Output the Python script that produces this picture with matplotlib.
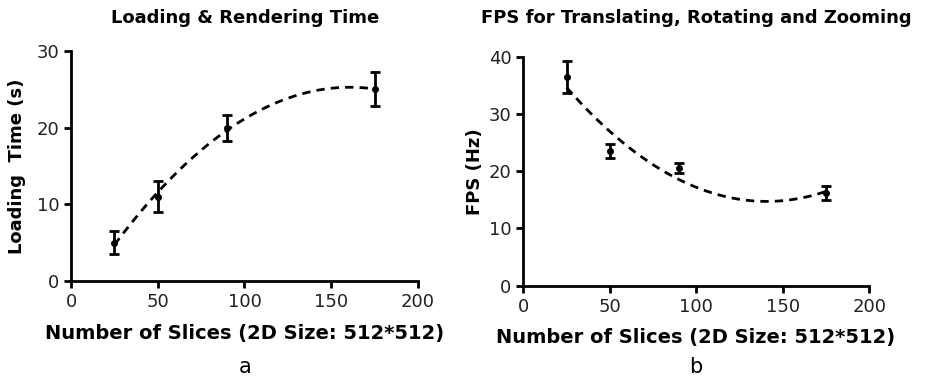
import numpy as np
import matplotlib
matplotlib.use("Agg")
import matplotlib.pyplot as plt

# données
slices = [25, 50, 90, 175]
load_time = [5.0, 11.0, 20.0, 25.0]
load_err = [1.5, 2.0, 1.7, 2.2]
fps = [36.4, 23.5, 20.5, 16.2]
fps_err = [2.8, 1.2, 0.9, 1.3]

plt.rcParams["font.family"] = ["DejaVu Sans"]

W, H = 927, 381
fig = plt.figure(figsize=(W / 100, H / 100), dpi=100)
ax1 = fig.add_axes([0.0766, 0.2625, 0.3743, 0.6037])
ax2 = fig.add_axes([0.5645, 0.2501, 0.3732, 0.6011])


def panel(ax, y, err, ymax, title, ylabel, letter, xc, ylab_x, xlab_y):
    x = np.array(slices, dtype=float)
    y = np.array(y)
    # ajustement polynomial d'ordre 2 (courbe pointillée)
    coef = np.polyfit(x, y, 2)
    xs = np.linspace(x.min(), x.max(), 200)
    ax.plot(xs, np.polyval(coef, xs), color="black", lw=2, ls=(0, (3, 2.2)))
    ax.errorbar(x, y, yerr=err, fmt="o", color="black", ms=4,
                elinewidth=2, capsize=3.5, capthick=2)

    ax.set_xlim(0, 200)
    ax.set_ylim(0, ymax)
    ax.set_xticks([0, 50, 100, 150, 200])
    ax.set_yticks(np.arange(0, ymax + 1, 10))
    for s in ["top", "right"]:
        ax.spines[s].set_visible(False)
    for s in ["left", "bottom"]:
        ax.spines[s].set_linewidth(2)
    ax.tick_params(width=2, length=5, labelsize=13, colors="black",
                   labelcolor="#222222")

    # textes placés en pixels comme sur l'original
    fig.text(xc / W, 1 - 18 / H, title, fontsize=13, fontweight="bold",
             ha="center", va="center")
    fig.text(ylab_x / W, ax.get_position().y0 + ax.get_position().height / 2,
             ylabel, fontsize=13, fontweight="bold", rotation=90,
             ha="center", va="center")
    fig.text(xc / W, 1 - xlab_y / H, "Number of Slices (2D Size: 512*512)",
             fontsize=14, fontweight="bold", ha="center", va="center")
    fig.text(xc / W, 1 - 367 / H, letter, fontsize=15, ha="center",
             va="center")


panel(ax1, load_time, load_err, 30, "Loading & Rendering Time",
      "Loading  Time (s)", "a", 245, 17, 333)
panel(ax2, fps, fps_err, 40, "FPS for Translating, Rotating and Zooming",
      "FPS (Hz)", "b", 696, 475, 337)

fig.savefig("out.png", dpi=100)
